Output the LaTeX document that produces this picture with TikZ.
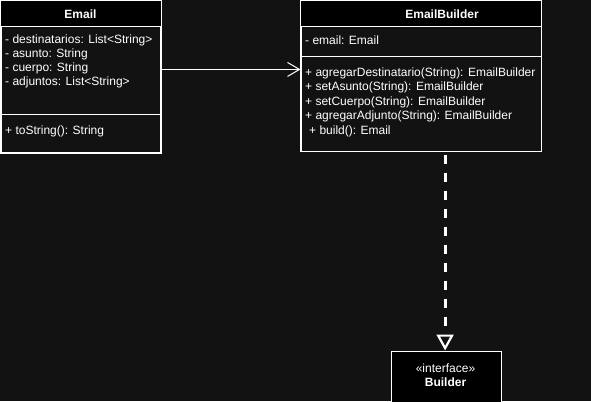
\documentclass[tikz,border=0pt]{standalone}
\usepackage{fontspec}
\setmainfont{Liberation Sans}
\usetikzlibrary{arrows.meta,calc}
\definecolor{bgc}{HTML}{121212}
\begin{document}
\begin{tikzpicture}[x=1bp,y=-1bp,
  classbox/.style={draw=white, line width=1bp, fill=bgc, anchor=north west, inner sep=0pt},
  ifacebox/.style={draw=white, line width=1bp, fill=black, anchor=north west, inner sep=0pt},
  sep/.style={draw=white, line width=1bp},
  member/.style={anchor=west, inner sep=0pt, text=white, font=\fontsize{12bp}{14bp}\selectfont},
  title/.style={inner sep=0pt, text=white, font=\bfseries\fontsize{12bp}{14bp}\selectfont},
  assoc/.style={draw=white, line width=1bp, -{Straight Barb[length=12bp,width=14bp]}},
  realize/.style={draw=white, line width=3bp, dash pattern=on 9bp off 9bp,
    -{Triangle[open, length=16bp, width=17bp, line width=2.2bp, fill=bgc]}}]
\fill[bgc] (0,0) rectangle (591,401);
\useasboundingbox (0,0) rectangle (591,401);

% Email class
\node[classbox, minimum width=159.5bp, minimum height=151.5bp] (email) at (0.5,0.5) {};
\fill[black] (email.north west) rectangle ($(email.north east)+(0,25.5)$);
\draw[sep] (email.north west) rectangle (email.south east);
\draw[sep] ($(email.north west)+(0,25.5)$) -- ($(email.north east)+(0,25.5)$);
\draw[sep] ($(email.north west)+(0,113.5)$) -- ($(email.north east)+(0,113.5)$);
\node[title] (emailt) at (80.5,14) {Email};
\node[member] (e1) at (5,40) {- destinatarios: List<String>};
\node[member] (e2) at (5,54) {- asunto: String};
\node[member] (e3) at (5,68.5) {- cuerpo: String};
\node[member] (e4) at (5,82.5) {- adjuntos: List<String>};
\node[member] (e5) at (5,131.5) {+ toString(): String};

% EmailBuilder class
\node[classbox, minimum width=240bp, minimum height=150bp] (builder) at (300.5,0.5) {};
\fill[black] (builder.north west) rectangle ($(builder.north east)+(0,25.5)$);
\draw[sep] (builder.north west) rectangle (builder.south east);
\draw[sep] ($(builder.north west)+(0,25.5)$) -- ($(builder.north east)+(0,25.5)$);
\draw[sep] ($(builder.north west)+(0,55.5)$) -- ($(builder.north east)+(0,55.5)$);
\node[title] (buildert) at (442,14) {EmailBuilder};
\node[member] (b1) at (305,40.5) {- email: Email};
\node[member] (b2) at (305,73) {+ agregarDestinatario(String): EmailBuilder};
\node[member] (b3) at (305,87.5) {+ setAsunto(String): EmailBuilder};
\node[member] (b4) at (305,102) {+ setCuerpo(String): EmailBuilder};
\node[member] (b5) at (305,116.5) {+ agregarAdjunto(String): EmailBuilder};
\node[member] (b6) at (309,131) {+ build(): Email};

% Builder interface
\node[ifacebox, minimum width=110bp, minimum height=60bp] (iface) at (390.5,350.5) {};
\node[inner sep=0pt, text=white, font=\fontsize{12bp}{14bp}\selectfont] (ifs) at (445.5,368) {«interface»};
\node[title] (ifn) at (445.5,382.5) {Builder};

% connectors
\coordinate (a1) at ($(email.north east)!0.452!(email.south east)$);
\draw[assoc] (a1) -- (a1 -| builder.west);
\coordinate (d1) at ($(builder.south west)!0.6!(builder.south east)+(0,3)$);
\draw[realize] (d1) -- (d1 |- iface.north);
\end{tikzpicture}
\end{document}
